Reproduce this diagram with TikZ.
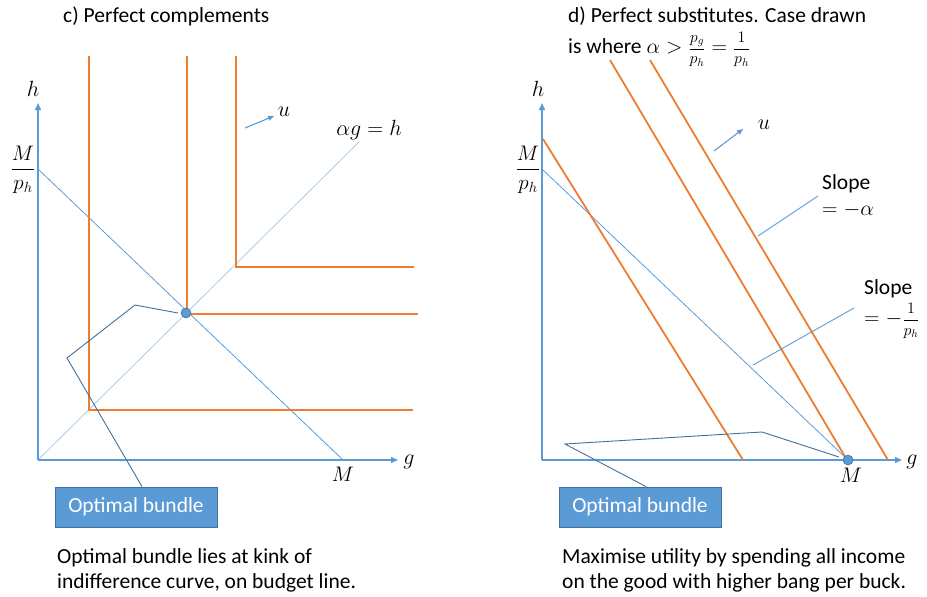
\RequirePackage{fix-cm}
\documentclass[tikz,border=0pt]{standalone}
\usepackage{amsmath}
\usepackage{fontspec}
\setmainfont{Carlito}
\usetikzlibrary{arrows.meta}
\definecolor{axblue}{HTML}{5B9BD5}
\definecolor{lblue}{HTML}{A9CBEB}
\definecolor{orng}{HTML}{ED7D31}
\definecolor{dblue}{HTML}{41719C}
\newcommand{\smallfr}[2]{{\fontsize{16}{18}\selectfont$\dfrac{#1}{#2}$}}
\begin{document}
\begin{tikzpicture}[x=1pt,y=-1pt,
  axis/.style={draw=axblue,line width=1.4pt,-{Triangle[length=7pt,width=6pt]}},
  budget/.style={draw=axblue,line width=0.8pt},
  diag/.style={draw=lblue,line width=0.8pt},
  icurve/.style={draw=orng,line width=1.8pt},
  callout/.style={draw=dblue,line width=0.9pt},
  leader/.style={draw=axblue,line width=0.9pt},
  uarrow/.style={draw=axblue,line width=1.1pt,-{Triangle[length=6pt,width=5pt]}},
  optbox/.style={fill=axblue,draw=dblue,line width=0.8pt,minimum width=162pt,minimum height=40pt,inner sep=0pt,text=white,font=\fontsize{21.5}{25}\selectfont},
  txt/.style={inner sep=0pt,font=\fontsize{21.5}{25}\selectfont},
  mth/.style={inner sep=0pt,font=\fontsize{22}{26}\selectfont},
  mlab/.style={inner sep=0pt,font=\fontsize{21}{25}\selectfont},
  dot/.style={circle,fill=axblue,draw=dblue,line width=0.6pt,minimum size=10pt,inner sep=0pt}
]
\useasboundingbox (0,0) rectangle (927,597);

% ---------------- Left panel ----------------
\node[txt,anchor=base west] (ctitle) at (63,22) {c) Perfect complements};
\coordinate (O1) at (38,460);
\coordinate (H1) at (38,103);
\coordinate (G1) at (398,460);
\coordinate (B1a) at (38,169);
\coordinate (B1b) at (343,460);
\coordinate (D1) at (359,142);
\draw[diag] (O1) -- (D1);
\draw[axis] (O1) -- (H1);
\draw[axis] (O1) -- (G1);
\draw[budget] (B1a) -- (B1b);
% indifference curves
\coordinate (I1t) at (89,56); \coordinate (I1k) at (89,410); \coordinate (I1e) at (413,410);
\coordinate (I2t) at (187,56); \coordinate (I2k) at (187,314); \coordinate (I2e) at (418,314);
\coordinate (I3t) at (236,56); \coordinate (I3k) at (236,267); \coordinate (I3e) at (414,267);
\draw[icurve] (I1t) -- (I1k) -- (I1e);
\draw[icurve] (I2t) -- (I2k) -- (I2e);
\draw[icurve] (I3t) -- (I3k) -- (I3e);
% labels
\node[mth] (h1) at (33,89) {$h$};
\node[mth] (g1) at (409,462) {$g$};
\node[mlab] (m1) at (343,474) {$M$};
\node[mlab] (mp1) at (23,170) {$\dfrac{M}{p_h}$};
\node[mth] (ag) at (369,130) {$\alpha g = h$};
% u arrow
\coordinate (u1s) at (245,128);
\coordinate (u1e) at (274,116);
\draw[uarrow] (u1s) -- (u1e);
\node[mth] (u1) at (284,112) {$u$};
% optimum
\node[dot] (opt1) at (186,313) {};
% callout
\node[optbox] (box1) at (136,507) {Optimal bundle};
\coordinate (c1a) at (67,358);
\coordinate (c1b) at (135,305);
\coordinate (c1c) at (178,313);
\draw[callout] (box1.north) ++(6,0) -- (c1a) -- (c1b) -- (c1c);
\node[txt,anchor=base west] (cap1a) at (57,563) {Optimal bundle lies at kink of};
\node[txt,anchor=base west] (cap1b) at (57,588) {indifference curve, on budget line.};

% ---------------- Right panel ----------------
\node[txt,anchor=base west] (dtitle) at (568,22) {d) Perfect substitutes. Case drawn};
\node[txt,anchor=base west] (dtitle2) at (568,53) {is where $\alpha >{}$\smallfr{p_g}{p_h}${}={}$\smallfr{1}{p_h}};
\coordinate (O2) at (542,460);
\coordinate (H2) at (542,103);
\coordinate (G2) at (902,460);
\coordinate (B2a) at (542,169);
\coordinate (B2b) at (848,460);
\draw[axis] (O2) -- (H2);
\draw[axis] (O2) -- (G2);
\draw[budget] (B2a) -- (B2b);
\coordinate (J1a) at (543,139); \coordinate (J1b) at (743,460);
\coordinate (J2a) at (610,60); \coordinate (J2b) at (847,460);
\coordinate (J3a) at (650,60); \coordinate (J3b) at (888,460);
\draw[icurve] (J1a) -- (J1b);
\draw[icurve] (J2a) -- (J2b);
\draw[icurve] (J3a) -- (J3b);
\node[mth] (h2) at (538,89) {$h$};
\node[mth] (g2) at (912,462) {$g$};
\node[mlab] (m2) at (851,475) {$M$};
\node[mlab] (mp2) at (528,170) {$\dfrac{M}{p_h}$};
% u arrow
\coordinate (u2s) at (714,151);
\coordinate (u2e) at (743,129);
\draw[uarrow] (u2s) -- (u2e);
\node[mth] (u2) at (764,125) {$u$};
% slope labels
\node[txt,anchor=base west] (s1) at (822,189) {Slope};
\node[txt,anchor=base west] (s1b) at (822,215) {$=-\alpha$};
\coordinate (l1a) at (818,196);
\coordinate (l1b) at (758,236);
\draw[leader] (l1a) -- (l1b);
\node[txt,anchor=base west] (s2) at (864,294) {Slope};
\node[txt,anchor=west] (s2b) at (864,321) {$=-{}$\smallfr{1}{p_h}};
\coordinate (l2a) at (854,308);
\coordinate (l2b) at (753,365);
\draw[leader] (l2a) -- (l2b);
% optimum
\node[dot] (opt2) at (848,460) {};
% callout
\node[optbox] (box2) at (640,507) {Optimal bundle};
\coordinate (c2a) at (565,444);
\coordinate (c2b) at (762,432);
\coordinate (c2c) at (839,457);
\draw[callout] (box2.north) ++(6,0) -- (c2a) -- (c2b) -- (c2c);
\node[txt,anchor=base west] (cap2a) at (562,563) {Maximise utility by spending all income};
\node[txt,anchor=base west] (cap2b) at (562,588) {on the good with higher bang per buck.};
\end{tikzpicture}
\end{document}
